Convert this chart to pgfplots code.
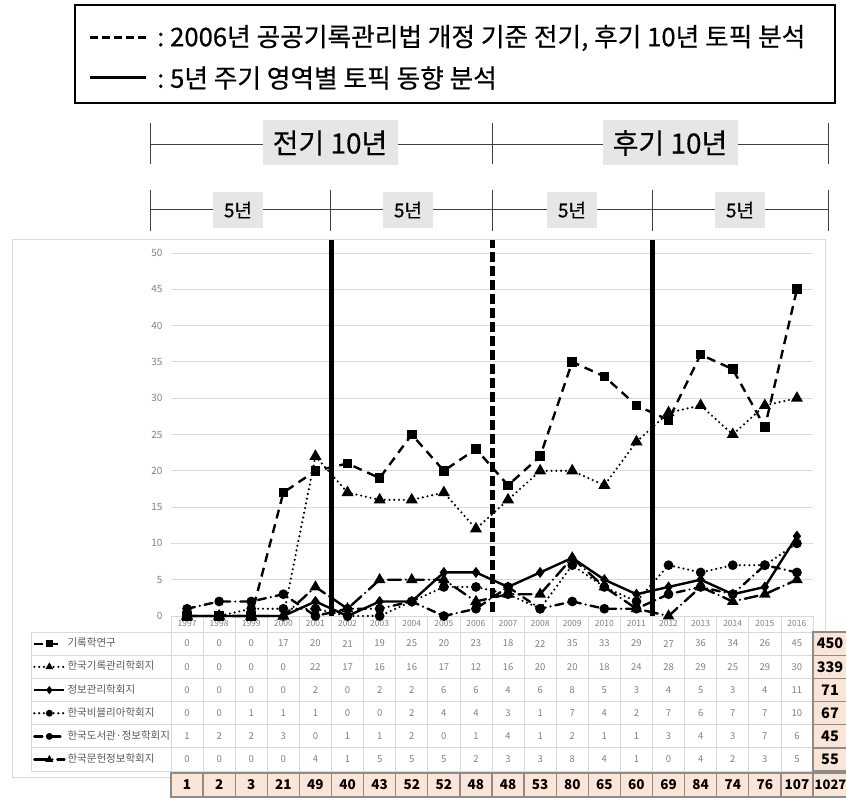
\documentclass[border=0pt]{standalone}
\usepackage{pgfplots}
\pgfplotsset{compat=1.18}
\usepackage{pgfplotstable}
\usepackage{fontspec}
\setmainfont{Noto Sans CJK KR}
\newfontfamily\medfont{Noto Sans CJK KR}[FakeBold=0.4]
\definecolor{gridgray}{HTML}{D9D9D9}
\definecolor{numgray}{HTML}{808080}
\definecolor{labgray}{HTML}{595959}
\definecolor{peach}{HTML}{FBE5D6}
\definecolor{boxgray}{HTML}{E7E6E6}
\definecolor{sumborder}{HTML}{8C8C8C}

\pgfplotstableread{
year s1 s2 s3 s4 s5 s6
1997 0 0 0 0 1 0
1998 0 0 0 0 2 0
1999 0 0 0 1 2 0
2000 17 0 0 1 3 0
2001 20 22 2 1 0 4
2002 21 17 0 0 1 1
2003 19 16 2 0 1 5
2004 25 16 2 2 2 5
2005 20 17 6 4 0 5
2006 23 12 6 4 1 2
2007 18 16 4 3 4 3
2008 22 20 6 1 1 3
2009 35 20 8 7 2 8
2010 33 18 5 4 1 4
2011 29 24 3 2 1 1
2012 27 28 4 7 3 0
2013 36 29 5 6 4 4
2014 34 25 3 7 3 2
2015 26 29 4 7 7 3
2016 45 30 11 10 6 5
}\datatable

\pgfplotsset{
 s1/.style={black, line width=2.4pt, dash pattern=on 9pt off 6pt, mark=square*, mark size=3.6pt, mark options={solid}},
 s2/.style={black, line width=2.4pt, line cap=round, dash pattern=on 0pt off 4.8pt, mark=triangle*, mark size=4.6pt, mark options={solid}},
 s3/.style={black, line width=2.4pt, mark=diamond*, mark size=3.6pt},
 s4/.style={black, line width=2.4pt, line cap=round, dash pattern=on 0pt off 4.8pt, mark=*, mark size=3.6pt, mark options={solid}},
 s5/.style={black, line width=2.4pt, line cap=round, dash pattern=on 8pt off 5pt on 0pt off 5pt, mark=*, mark size=3.6pt, mark options={solid}},
 s6/.style={black, line width=2.4pt, line cap=round, dash pattern=on 13pt off 5pt on 0pt off 5pt, mark=triangle*, mark size=4.3pt, mark options={solid}},
 shortleg/.style={legend image code/.code={\draw[mark size=2.2pt, ##1] plot coordinates {(0pt,0pt) (10pt,0pt)}; \draw[##1, solid] (2pt,0pt) -- (8pt,0pt);}},
}

\begin{document}
\begin{tikzpicture}[x=1pt,y=1pt]
\path[use as bounding box] (0,0) rectangle (846,798);
\begin{scope}[yshift=798pt, yscale=-1]
 % chart frame
 \draw[gridgray, line width=1pt] (12,240) rectangle (825,777);
 % top legend box
 \draw[black, line width=2pt] (75,5) rectangle (835,103);
 \draw[black, line width=3pt, dash pattern=on 8pt off 4pt] (90,38) -- (146,38);
 \draw[black, line width=3pt] (90,78) -- (146,78);
 \node[anchor=west, inner sep=0pt] at (157,38) {\medfont\fontsize{25.7}{28}\selectfont :\ 2006년 공공기록관리법 개정 기준 전기, 후기 10년 토픽 분석};
 \node[anchor=west, inner sep=0pt] at (157,78) {\medfont\fontsize{25.7}{28}\selectfont :\ 5년 주기 영역별 토픽 동향 분석};
 % period bars
 \draw[black!75, line width=1pt] (150,145) -- (828,145);
 \foreach \xx in {150,492,828} \draw[black!75, line width=1pt] (\xx,123) -- (\xx,164);
 \node[fill=boxgray, minimum width=135pt, minimum height=45pt, inner sep=0pt] at (330,143) {\medfont\fontsize{28}{30}\selectfont 전기 10년};
 \node[fill=boxgray, minimum width=135pt, minimum height=45pt, inner sep=0pt] at (670,143) {\medfont\fontsize{28}{30}\selectfont 후기 10년};
 \draw[black!75, line width=1pt] (150,210) -- (828,210);
 \foreach \xx in {150,330,492,652,828} \draw[black!75, line width=1pt] (\xx,190) -- (\xx,231);
 \foreach \xx in {238,408,572,740}
   \node[fill=boxgray, minimum width=50pt, minimum height=36pt, inner sep=0pt] at (\xx,210) {\medfont\fontsize{19}{20}\selectfont 5년};
 % table grid
 \foreach \k in {0,...,20} \draw[gridgray, line width=0.8pt] ({171+32.1*\k},616) -- ({171+32.1*\k},771);
 \foreach \j in {0,...,6} \draw[gridgray, line width=0.8pt] (31,{632+23.17*\j}) -- (813,{632+23.17*\j});
 \draw[gridgray, line width=0.8pt] (31,632) -- (31,771);
\end{scope}

\begin{axis}[
  at={(171pt,182pt)}, anchor=south west,
  width=642pt, height=363pt, scale only axis,
  xmin=1996.5, xmax=2016.5, ymin=0, ymax=50,
  ytick={0,5,...,50},
  xtick={1997,...,2016},
  ymajorgrids, grid style={gridgray, line width=0.9pt},
  axis line style={draw=none},
  major tick length=0pt,
  /pgf/number format/assume math mode=true,
  /pgf/number format/1000 sep={},
  yticklabel style={font=\fontsize{10}{11}\selectfont, text=numgray, xshift=-5pt},
  xticklabel style={font=\fontsize{8.5}{9}\selectfont, text=numgray, yshift=-0.5pt},
  clip=false,
  legend style={at={(-0.215,-0.0634)}, anchor=north west, draw=none, fill=none,
     inner sep=0pt, row sep=14.17pt, column sep=2pt,
     font=\fontsize{10.5}{12}\selectfont\color{labgray},
     nodes={inner sep=0pt, text height=7.5pt, text depth=1.5pt}},
  legend cell align=left,
  legend image code/.code={\draw[mark repeat=2, mark phase=2, mark size=2.2pt, #1] plot coordinates {(0pt,0pt) (15pt,0pt) (30pt,0pt)};},
]
\addplot[s1] table[x=year, y=s1] {\datatable};
\addplot[s2] table[x=year, y=s2] {\datatable};
\addplot[s3] table[x=year, y=s3] {\datatable};
\addplot[s4] table[x=year, y=s4] {\datatable};
\addplot[s5] table[x=year, y=s5] {\datatable};
\addplot[s6] table[x=year, y=s6] {\datatable};
\legend{기록학연구, 한국기록관리학회지, 정보관리학회지, 한국비블리아학회지, 한국도서관·정보학회지, 한국문헌정보학회지}
\draw[black, line width=5pt] (axis cs:2001.5,0) -- (axis cs:2001.5,51.8);
\draw[black, line width=5pt] (axis cs:2011.5,0) -- (axis cs:2011.5,51.8);
\draw[black, line width=5pt, dash pattern=on 10pt off 4pt] (axis cs:2006.5,0.5) -- (axis cs:2006.5,51.8);
\end{axis}

\begin{scope}[yshift=798pt, yscale=-1]
 \tikzset{num/.style={inner sep=0pt, text=numgray, font=\fontsize{9.5}{10}\selectfont}}
 \foreach \v [count=\i from 0] in {0,0,0,17,20,21,19,25,20,23,18,22,35,33,29,27,36,34,26,45}
   \node[num] at ({187.05+32.1*\i},{632+23.17*0.5}) {\v};
 \foreach \v [count=\i from 0] in {0,0,0,0,22,17,16,16,17,12,16,20,20,18,24,28,29,25,29,30}
   \node[num] at ({187.05+32.1*\i},{632+23.17*1.5}) {\v};
 \foreach \v [count=\i from 0] in {0,0,0,0,2,0,2,2,6,6,4,6,8,5,3,4,5,3,4,11}
   \node[num] at ({187.05+32.1*\i},{632+23.17*2.5}) {\v};
 \foreach \v [count=\i from 0] in {0,0,1,1,1,0,0,2,4,4,3,1,7,4,2,7,6,7,7,10}
   \node[num] at ({187.05+32.1*\i},{632+23.17*3.5}) {\v};
 \foreach \v [count=\i from 0] in {1,2,2,3,0,1,1,2,0,1,4,1,2,1,1,3,4,3,7,6}
   \node[num] at ({187.05+32.1*\i},{632+23.17*4.5}) {\v};
 \foreach \v [count=\i from 0] in {0,0,0,0,4,1,5,5,5,2,3,3,8,4,1,0,4,2,3,5}
   \node[num] at ({187.05+32.1*\i},{632+23.17*5.5}) {\v};
 % sum row
 \foreach \v [count=\i from 0] in {1,2,3,21,49,40,43,52,52,48,48,53,80,65,60,69,84,74,76,107} {
   \draw[fill=peach, draw=sumborder, line width=1.3pt] ({171+32.1*\i},773) rectangle ({171+32.1*(\i+1)},797);
   \node[inner sep=0pt, font=\bfseries\fontsize{13.5}{14}\selectfont] at ({187.05+32.1*\i},785) {\v};
 }
 % total column
 \foreach \v [count=\i from 0] in {450,339,71,67,45,55} {
   \draw[fill=peach, draw=sumborder, line width=1.3pt] (813,{632+23.17*\i}) rectangle (850,{632+23.17*(\i+1)});
   \node[inner sep=0pt, font=\bfseries\fontsize{14.5}{16}\selectfont] at (830,{632+23.17*(\i+0.5)}) {\v};
 }
 \draw[fill=peach, draw=sumborder, line width=1.3pt] (813,773) rectangle (850,797);
 \node[inner sep=0pt, anchor=west, font=\bfseries\fontsize{13}{16}\selectfont] at (814.5,785) {1027};
\end{scope}
\end{tikzpicture}
\end{document}
